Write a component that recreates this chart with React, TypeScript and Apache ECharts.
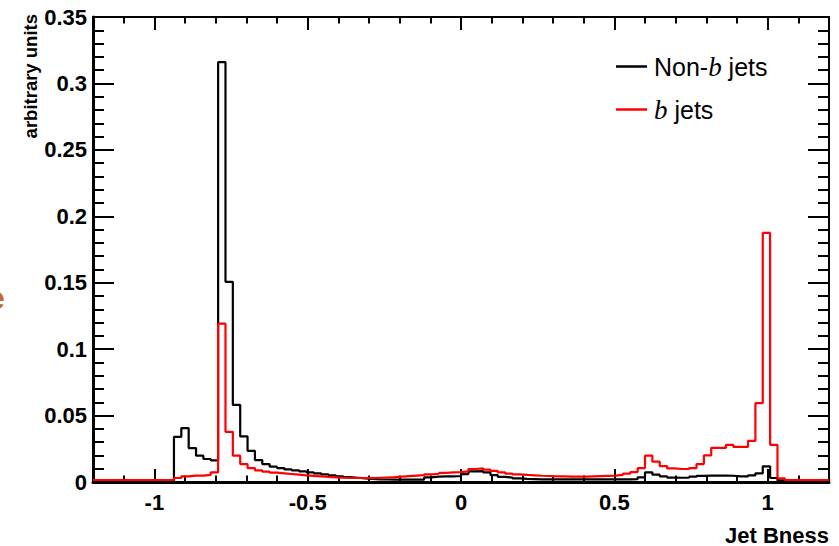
import React, { useEffect, useRef } from "react";
import * as echarts from "echarts";

// 100 bins of width 0.024 from -1.2 to 1.2
const binEdges: number[] = [
  -1.2, -1.176, -1.152, -1.128, -1.104, -1.08, -1.056, -1.032, -1.008, -0.984,
  -0.96, -0.936, -0.912, -0.888, -0.864, -0.84, -0.816, -0.792, -0.768, -0.744,
  -0.72, -0.696, -0.672, -0.648, -0.624, -0.6, -0.576, -0.552, -0.528, -0.504,
  -0.48, -0.456, -0.432, -0.408, -0.384, -0.36, -0.336, -0.312, -0.288, -0.264,
  -0.24, -0.216, -0.192, -0.168, -0.144, -0.12, -0.096, -0.072, -0.048, -0.024,
  0, 0.024, 0.048, 0.072, 0.096, 0.12, 0.144, 0.168, 0.192, 0.216,
  0.24, 0.264, 0.288, 0.312, 0.336, 0.36, 0.384, 0.408, 0.432, 0.456,
  0.48, 0.504, 0.528, 0.552, 0.576, 0.6, 0.624, 0.648, 0.672, 0.696,
  0.72, 0.744, 0.768, 0.792, 0.816, 0.84, 0.864, 0.888, 0.912, 0.936,
  0.96, 0.984, 1.008, 1.032, 1.056, 1.08, 1.104, 1.128, 1.152, 1.176,
];
const xEnd = 1.2;

const nonBJets: number[] = [
  0, 0, 0, 0, 0, 0, 0, 0, 0, 0,
  0, 0.034, 0.0406, 0.0255, 0.0198, 0.0173, 0.0163, 0.316, 0.1507, 0.058,
  0.0343, 0.0235, 0.0165, 0.0135, 0.0115, 0.0105, 0.0095, 0.0088, 0.008, 0.0072,
  0.0065, 0.0057, 0.005, 0.0043, 0.0037, 0.0032, 0.0027, 0.0023, 0.002, 0.0019,
  0.0018, 0.0018, 0.0018, 0.0018, 0.0018, 0.0035, 0.004, 0.0042, 0.0043, 0.0045,
  0.006, 0.008, 0.0082, 0.0073, 0.0052, 0.0038, 0.0033, 0.0027, 0.0024, 0.0022,
  0.002, 0.002, 0.002, 0.002, 0.002, 0.002, 0.002, 0.002, 0.002, 0.002,
  0.002, 0.002, 0.002, 0.0021, 0.0035, 0.0073, 0.0055, 0.0043, 0.0033, 0.0032,
  0.0033, 0.004, 0.0046, 0.0048, 0.0049, 0.0048, 0.0047, 0.0043, 0.0042, 0.005,
  0.0065, 0.0118, 0.003, 0.0012, 0.0005, 0.0005, 0.0005, 0.0005, 0.0005, 0.0005,
];

const bJets: number[] = [
  0.0015, 0.0015, 0.0015, 0.0015, 0.0015, 0.0015, 0.0015, 0.0015, 0.0015, 0.0015,
  0.0015, 0.003, 0.0043, 0.0048, 0.0048, 0.0053, 0.0073, 0.1192, 0.0378, 0.0198,
  0.0135, 0.0105, 0.0088, 0.0078, 0.007, 0.0065, 0.006, 0.0055, 0.005, 0.0046,
  0.0042, 0.0038, 0.0035, 0.0032, 0.003, 0.003, 0.003, 0.003, 0.0032, 0.0034,
  0.0036, 0.004, 0.0044, 0.0048, 0.0052, 0.0058, 0.0062, 0.0068, 0.0072, 0.0075,
  0.008, 0.0098, 0.0103, 0.0093, 0.0083, 0.0073, 0.0063, 0.0057, 0.0053, 0.005,
  0.0047, 0.0045, 0.0043, 0.0042, 0.004, 0.004, 0.004, 0.0042, 0.0044, 0.0046,
  0.0048, 0.0053, 0.0063, 0.0075, 0.0105, 0.0198, 0.0153, 0.012, 0.0102, 0.0098,
  0.0098, 0.0105, 0.0135, 0.02, 0.0257, 0.0257, 0.028, 0.0265, 0.0265, 0.031,
  0.0593, 0.1875, 0.028, 0.0028, 0.0015, 0.0015, 0.0015, 0.0015, 0.0015, 0.0015,
];

const xMajorTicks: number[] = [-1, -0.5, 0, 0.5, 1];
const xMinorTicks: number[] = [
  -1.2, -1.1, -0.9, -0.8, -0.7, -0.6, -0.4, -0.3, -0.2, -0.1,
  0.1, 0.2, 0.3, 0.4, 0.6, 0.7, 0.8, 0.9, 1.1, 1.2,
];
const yMajorTicks: number[] = [0, 0.05, 0.1, 0.15, 0.2, 0.25, 0.3, 0.35];

const seriesNames = ["Non-b jets", "b jets"];
const xTitle = "Jet Bness";
const yTitle = "arbitrary units";

function toSteps(values: number[]): [number, number][] {
  const pts: [number, number][] = values.map((v, i) => [binEdges[i], v]);
  pts.push([xEnd, values[values.length - 1]]);
  return pts;
}

const FONT = "Liberation Sans, Arial, Helvetica, sans-serif";

export default function App() {
  const ref = useRef<HTMLDivElement>(null);
  useEffect(() => {
    if (!ref.current) return;
    const chart = echarts.init(ref.current, undefined, { renderer: "svg" });
    const xBase = {
      type: "value" as const,
      min: -1.2,
      max: 1.2,
      splitLine: { show: false },
    };
    const yBase = {
      type: "value" as const,
      min: 0,
      max: 0.35,
      interval: 0.05,
      splitLine: { show: false },
    };
    chart.setOption({
      animation: false,
      backgroundColor: "#ffffff",
      grid: {
        left: 93,
        right: 10,
        top: 17,
        bottom: 63,
        show: true,
        borderColor: "#000",
        borderWidth: 2,
        backgroundColor: "transparent",
      },
      legend: {
        show: true,
        orient: "vertical",
        left: 611,
        top: 48,
        itemWidth: 31,
        itemHeight: 2.5,
        itemGap: 16,
        icon: "rect",
        data: seriesNames,
        textStyle: {
          fontFamily: FONT,
          fontSize: 25,
          color: "#000",
          padding: [0, 0, 0, 2],
          rich: {
            r: { fontFamily: FONT, fontSize: 25, color: "#000" },
            i: {
              fontFamily: "Liberation Serif, Times New Roman, serif",
              fontStyle: "italic",
              fontSize: 27,
              color: "#000",
            },
          },
        },
        formatter: (name: string) =>
          name === "Non-b jets" ? "{r|Non-}{i|b}{r| jets}" : "{i|b}{r| jets}",
      },
      xAxis: [
        {
          ...xBase,
          position: "bottom",
          axisLine: { show: true, onZero: false, lineStyle: { color: "#000", width: 3 } },
          axisTick: {
            show: true,
            inside: true,
            length: 13,
            customValues: xMajorTicks,
            lineStyle: { color: "#000", width: 2 },
          },
          axisLabel: {
            show: true,
            customValues: xMajorTicks,
            margin: 9,
            fontFamily: FONT,
            fontWeight: "bold",
            fontSize: 22,
            color: "#000",
          },
          name: xTitle,
          nameLocation: "end",
          nameGap: 0,
          nameTextStyle: {
            fontFamily: FONT,
            fontWeight: "bold",
            fontSize: 22,
            color: "#000",
            align: "right",
            verticalAlign: "top",
            padding: [42, 0, 0, 0],
          },
        },
        {
          ...xBase,
          position: "bottom",
          offset: 0,
          axisLine: { show: false, onZero: false },
          axisTick: {
            show: true,
            inside: true,
            length: 6.5,
            customValues: xMinorTicks,
            lineStyle: { color: "#000", width: 2 },
          },
          axisLabel: { show: false },
        },
        {
          ...xBase,
          position: "top",
          offset: 0,
          axisLine: { show: true, onZero: false, lineStyle: { color: "#000", width: 2 } },
          axisTick: {
            show: true,
            inside: true,
            length: 13,
            customValues: xMajorTicks,
            lineStyle: { color: "#000", width: 2 },
          },
          axisLabel: { show: false },
        },
        {
          ...xBase,
          position: "top",
          offset: 0,
          axisLine: { show: false, onZero: false },
          axisTick: {
            show: true,
            inside: true,
            length: 6.5,
            customValues: xMinorTicks,
            lineStyle: { color: "#000", width: 2 },
          },
          axisLabel: { show: false },
        },
      ],
      yAxis: [
        {
          ...yBase,
          position: "left",
          axisLine: { show: true, onZero: false, lineStyle: { color: "#000", width: 3 } },
          axisTick: {
            show: true,
            inside: true,
            length: 21,
            lineStyle: { color: "#000", width: 2 },
          },
          minorTick: {
            show: true,
            splitNumber: 5,
            length: 11,
            lineStyle: { color: "#000", width: 2 },
          },
          axisLabel: {
            show: true,
            customValues: yMajorTicks,
            margin: 6,
            fontFamily: FONT,
            fontWeight: "bold",
            fontSize: 22,
            color: "#000",
            formatter: (v: number) => String(v),
          },
        },
        {
          ...yBase,
          position: "right",
          offset: 0,
          axisLine: { show: true, onZero: false, lineStyle: { color: "#000", width: 2 } },
          axisTick: {
            show: true,
            inside: true,
            length: 21,
            lineStyle: { color: "#000", width: 2 },
          },
          minorTick: {
            show: true,
            splitNumber: 5,
            length: 11,
            lineStyle: { color: "#000", width: 2 },
          },
          axisLabel: { show: false },
        },
      ],
      series: [
        {
          name: seriesNames[0],
          type: "line",
          step: "end",
          xAxisIndex: 0,
          yAxisIndex: 0,
          showSymbol: false,
          symbol: "none",
          color: "#000000",
          lineStyle: { color: "#000000", width: 2.2 },
          data: toSteps(nonBJets),
        },
        {
          name: seriesNames[1],
          type: "line",
          step: "end",
          xAxisIndex: 0,
          yAxisIndex: 0,
          showSymbol: false,
          symbol: "none",
          color: "#ff0000",
          lineStyle: { color: "#ff0000", width: 2.2 },
          data: toSteps(bJets),
        },
      ],
      graphic: [
        {
          type: "text",
          x: 21,
          y: 14,
          rotation: Math.PI / 2,
          style: {
            text: yTitle,
            fontFamily: FONT,
            fontWeight: "bold",
            fontSize: 18.5,
            fill: "#000",
            align: "right",
            verticalAlign: "top",
          },
        },
        {
          type: "text",
          x: -13,
          y: 282,
          style: {
            text: "e",
            fontFamily: FONT,
            fontWeight: "bold",
            fontSize: 32,
            fill: "#c4692c",
          },
        },
      ],
    });
    return () => chart.dispose();
  }, []);
  return <div ref={ref} style={{ width: 839, height: 546, position: "absolute", left: 0, top: 0 }} />;
}
